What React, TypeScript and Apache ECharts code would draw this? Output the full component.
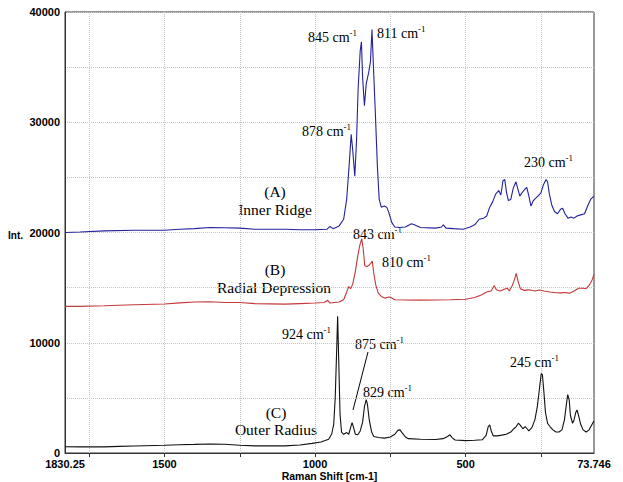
import React, { useEffect, useRef } from "react";
import * as echarts from "echarts";

// Axis tick labels
const xLabelValues = [1830.25, 1500, 1000, 500, 73.746];
const xTickValues = [1750, 1500, 1250, 1000, 750, 500, 250];
const yLabelValues = [0, 10000, 20000, 30000, 40000];

// (A) Inner Ridge
const innerShift = [1830, 1780, 1700, 1600, 1500, 1450, 1400, 1350, 1300, 1250, 1200, 1100, 1050, 1000, 960, 950, 940, 920, 905, 895, 887, 880, 875, 868, 862, 857, 850, 846, 842, 836, 830, 822, 816, 811, 806, 800, 793, 787, 780, 770, 762, 755, 745, 735, 720, 700, 680, 670, 650, 600, 580, 574, 565, 540, 508, 485, 470, 455, 440, 430, 420, 410, 400, 390, 383, 376, 370, 364, 358, 350, 342, 333, 327, 320, 313, 304, 297, 290, 283, 275, 268, 260, 250, 242, 233, 228, 222, 214, 205, 195, 185, 178, 170, 160, 150, 140, 130, 118, 105, 95, 85, 74];
const innerInt = [20000, 20050, 20150, 20200, 20200, 20300, 20350, 20450, 20430, 20400, 20300, 20300, 20250, 20250, 20300, 20550, 20350, 20600, 21200, 23000, 26000, 28900, 27500, 25100, 28500, 33000, 36500, 37300, 34000, 31500, 33500, 34500, 35500, 38400, 35000, 31000, 26000, 23000, 22300, 22400, 22300, 21800, 20900, 20500, 20450, 20500, 20800, 20700, 20450, 20400, 20500, 20700, 20400, 20350, 20300, 20500, 20700, 21200, 21300, 21500, 22300, 22800, 23500, 23800, 23400, 24700, 24800, 23600, 22900, 23000, 24000, 24600, 24000, 23300, 23600, 23900, 24100, 23300, 22400, 22900, 23100, 23300, 23600, 24300, 24800, 24600, 23500, 22500, 21900, 21700, 22100, 22200, 21700, 21300, 21400, 21300, 21500, 21600, 21700, 22400, 23000, 23300];

// (B) Radial Depression
const radialShift = [1830, 1780, 1700, 1650, 1600, 1500, 1450, 1400, 1350, 1300, 1250, 1200, 1100, 1050, 1000, 970, 958, 950, 920, 905, 895, 888, 882, 875, 866, 858, 851, 845, 840, 835, 828, 822, 815, 810, 805, 798, 790, 780, 768, 755, 748, 735, 700, 650, 600, 550, 500, 470, 450, 430, 415, 405, 398, 385, 372, 362, 355, 345, 338, 332, 325, 318, 305, 290, 270, 255, 240, 220, 200, 185, 170, 155, 140, 125, 110, 100, 90, 80, 74];
const radialInt = [13300, 13300, 13350, 13400, 13450, 13520, 13620, 13700, 13720, 13650, 13650, 13550, 13500, 13550, 13600, 13650, 13850, 13600, 13700, 13900, 14600, 15100, 14900, 15300, 16500, 17900, 18900, 19450, 18500, 17000, 16900, 17000, 17200, 17400, 16300, 15200, 14500, 14200, 14050, 14150, 14100, 13900, 13880, 13870, 13880, 13900, 13950, 14100, 14300, 14600, 14700, 15200, 14800, 14700, 14850, 14950, 14700, 15200, 15700, 16300, 15500, 14900, 14750, 14800, 14700, 14780, 14700, 14600, 14530, 14520, 14560, 14500, 14700, 14950, 14950, 14900, 15200, 15700, 16200];

// (C) Outer Radius
const outerShift = [1830, 1780, 1700, 1650, 1600, 1500, 1450, 1400, 1350, 1300, 1250, 1200, 1100, 1050, 1010, 980, 955, 945, 938, 933, 928, 925, 921, 917, 912, 905, 895, 888, 882, 877, 872, 866, 858, 850, 842, 836, 830, 826, 820, 812, 805, 790, 770, 750, 735, 725, 718, 710, 700, 690, 650, 600, 575, 560, 552, 545, 535, 500, 470, 445, 432, 425, 420, 415, 408, 395, 380, 365, 350, 340, 332, 325, 318, 310, 302, 296, 290, 280, 270, 262, 255, 249, 245, 240, 235, 228, 220, 210, 200, 190, 180, 172, 165, 161, 156, 152, 145, 140, 134, 130, 125, 118, 110, 100, 90, 80, 74];
const outerInt = [570, 560, 560, 600, 630, 700, 750, 780, 820, 800, 700, 650, 650, 720, 870, 1000, 1250, 1700, 2600, 5000, 9500, 12400, 8000, 3500, 1900, 1700, 1850, 1700, 2300, 2750, 2300, 1700, 1650, 2000, 2800, 4200, 4850, 4400, 3000, 1900, 1500, 1400, 1350, 1450, 1700, 2050, 2100, 1800, 1450, 1300, 1250, 1230, 1300, 1500, 1650, 1400, 1180, 1120, 1150, 1200, 1600, 2400, 2550, 2000, 1550, 1550, 1620, 1700, 1900, 2200, 2400, 2700, 2500, 2200, 2400, 2200, 2000, 2300, 3000, 4200, 5800, 7200, 7100, 5500, 3700, 2700, 2400, 2100, 1900, 1900, 2100, 3000, 4500, 5300, 4800, 3400, 2700, 3000, 3700, 3900, 3400, 2600, 2100, 1900, 2100, 2600, 2900];

const zip = (xs: number[], ys: number[]) => xs.map((x, i) => [x, ys[i]]);

const SERIF = "'Liberation Serif', 'Times New Roman', serif";
const SANS = "'Liberation Sans', Arial, sans-serif";

function peakLabel(num: string, x: number, y: number) {
  return {
    type: "text",
    x,
    y,
    silent: true,
    style: {
      text: `{a|${num} cm}{b|-1}`,
      textAlign: "left",
      textVerticalAlign: "middle",
      rich: {
        a: { fontFamily: SERIF, fontSize: 14, lineHeight: 18, fill: "#000" },
        b: { fontFamily: SERIF, fontSize: 9, lineHeight: 10, verticalAlign: "top", fill: "#000" },
      },
    },
  };
}

function nameLabel(text: string, x: number, y: number) {
  return {
    type: "text",
    x,
    y,
    silent: true,
    style: {
      text,
      fontFamily: SERIF,
      fontSize: 15.5,
      fill: "#000",
      textAlign: "center",
      textVerticalAlign: "middle",
    },
  };
}

export default function App() {
  const ref = useRef<HTMLDivElement>(null);
  useEffect(() => {
    if (!ref.current) return;
    const chart = echarts.init(ref.current, null, { renderer: "svg" });
    chart.setOption({
      animation: false,
      backgroundColor: "#fff",
      grid: {
        left: 65,
        right: 29,
        top: 12,
        bottom: 29,
        containLabel: false,
        outerBoundsMode: "none",
        show: true,
        borderColor: "#333",
        borderWidth: 1,
        backgroundColor: "transparent",
      },
      xAxis: {
        type: "value",
        min: 73.746,
        max: 1830.25,
        inverse: true,
        name: "Raman Shift [cm-1]",
        nameLocation: "middle",
        nameGap: 17,
        nameMoveOverlap: false,
        nameTextStyle: { fontFamily: SANS, fontWeight: "bold", fontSize: 10.5, lineHeight: 12, color: "#000" },
        axisLine: { show: true, lineStyle: { color: "#333", width: 1 } },
        axisTick: { show: true, customValues: xTickValues, length: 4, lineStyle: { color: "#333" } },
        axisLabel: {
          customValues: xLabelValues,
          formatter: (v: number) => String(v),
          fontFamily: SANS,
          fontWeight: "bold",
          fontSize: 11,
          lineHeight: 12,
          color: "#000",
          margin: 5,
        },
        splitLine: { show: true, lineStyle: { color: "#c4c4c4", type: "dotted", width: 1 } },
      },
      yAxis: {
        type: "value",
        min: 0,
        max: 40000,
        interval: 5000,
        axisLine: { show: true, lineStyle: { color: "#333", width: 1 } },
        axisTick: { show: false },
        axisLabel: {
          formatter: (v: number) => (yLabelValues.indexOf(v) >= 0 ? String(v) : ""),
          fontFamily: SANS,
          fontWeight: "bold",
          fontSize: 11,
          color: "#000",
          margin: 5,
        },
        splitLine: { show: true, lineStyle: { color: "#c4c4c4", type: "dotted", width: 1 } },
      },
      series: [
        {
          name: "Inner Ridge",
          type: "line",
          data: zip(innerShift, innerInt),
          showSymbol: false,
          lineStyle: { color: "#22229a", width: 1.1 },
          itemStyle: { color: "#22229a" },
        },
        {
          name: "Radial Depression",
          type: "line",
          data: zip(radialShift, radialInt),
          showSymbol: false,
          lineStyle: { color: "#c23a3a", width: 1.1 },
          itemStyle: { color: "#c23a3a" },
        },
        {
          name: "Outer Radius",
          type: "line",
          data: zip(outerShift, outerInt),
          showSymbol: false,
          lineStyle: { color: "#111", width: 1.1 },
          itemStyle: { color: "#111" },
        },
      ],
      graphic: [
        {
          type: "text",
          x: 23,
          y: 235,
          silent: true,
          style: { text: "Int.", fontFamily: SANS, fontWeight: "bold", fontSize: 10, fill: "#000", textAlign: "right", textVerticalAlign: "middle" },
        },
        peakLabel("845", 308, 37),
        peakLabel("811", 377, 33),
        peakLabel("878", 302, 131),
        peakLabel("230", 524, 162),
        peakLabel("843", 353, 234),
        peakLabel("810", 382, 262),
        peakLabel("924", 282, 334),
        peakLabel("875", 355, 344),
        peakLabel("829", 363, 392),
        peakLabel("245", 510, 362),
        nameLabel("(A)", 275, 191),
        nameLabel("Inner Ridge", 275, 209),
        nameLabel("(B)", 275, 269),
        nameLabel("Radial Depression", 274, 287),
        nameLabel("(C)", 276, 412),
        nameLabel("Outer Radius", 276, 429),
        {
          type: "line",
          silent: true,
          shape: { x1: 368, y1: 352, x2: 353, y2: 410 },
          style: { stroke: "#000", lineWidth: 1 },
        },
      ],
    });
    return () => chart.dispose();
  }, []);
  return <div ref={ref} style={{ position: "absolute", left: 0, top: 0, width: 623, height: 482 }} />;
}
